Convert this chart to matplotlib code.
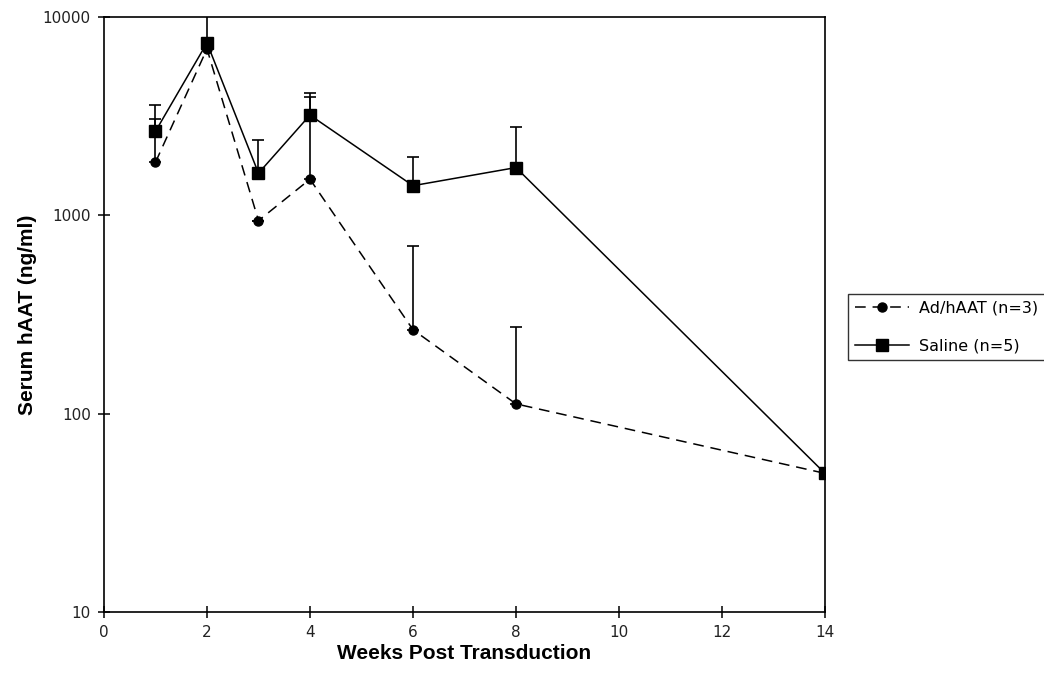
import matplotlib
matplotlib.use("Agg")
import matplotlib.pyplot as plt
from matplotlib.ticker import FixedLocator, NullLocator, FixedFormatter

weeks = [1, 2, 3, 4, 6, 8, 14]
ad_mean = [1850, 6900, 940, 1520, 265, 112, 50]
ad_upper = [3050, 7200, 940, 3970, 700, 272, 50]
saline_mean = [2650, 7400, 1630, 3200, 1410, 1740, 50]
saline_upper = [3600, 10600, 2400, 4150, 1970, 2800, 50]

xticks = [0, 2, 4, 6, 8, 10, 12, 14]
yticks = [10, 100, 1000, 10000]
ytick_labels = ["10", "100", "1000", "10000"]

fig = plt.figure(figsize=(10.44, 6.77), dpi=100)
ax = fig.add_axes([0.0996, 0.096, 0.6906, 0.879])

ad_err = [[0] * len(weeks), [u - m for u, m in zip(ad_upper, ad_mean)]]
sa_err = [[0] * len(weeks), [u - m for u, m in zip(saline_upper, saline_mean)]]

ax.errorbar(weeks, ad_mean, yerr=ad_err, fmt='none', ecolor='black',
            elinewidth=1.2, capsize=4.5, capthick=1.2)
ax.errorbar(weeks, saline_mean, yerr=sa_err, fmt='none', ecolor='black',
            elinewidth=1.2, capsize=4.5, capthick=1.2)

ax.plot(weeks, ad_mean, color='black', linestyle=(0, (7, 4.5)), linewidth=1.1,
        marker='o', markersize=6.5, label='Ad/hAAT (n=3)')
ax.plot(weeks, saline_mean, color='black', linestyle='-', linewidth=1.1,
        marker='s', markersize=8.5, label='Saline (n=5)')

ax.set_yscale('log')
ax.set_ylim(10, 10000)
ax.set_xlim(0, 14)
ax.xaxis.set_major_locator(FixedLocator(xticks))
ax.yaxis.set_major_locator(FixedLocator(yticks))
ax.yaxis.set_major_formatter(FixedFormatter(ytick_labels))
ax.yaxis.set_minor_locator(NullLocator())

for sp in ax.spines.values():
    sp.set_linewidth(1.2)
ax.tick_params(axis='both', direction='inout', length=9, width=1.1,
               labelsize=11, pad=5)
for lab in ax.get_xticklabels() + ax.get_yticklabels():
    lab.set_family('DejaVu Sans')
    lab.set_color('#222222')

ax.set_xlabel('Weeks Post Transduction', fontsize=15, fontweight='bold',
              family='Liberation Sans', labelpad=3)
ax.set_ylabel('Serum hAAT (ng/ml)', fontsize=15, fontweight='bold',
              family='Liberation Sans', labelpad=4)

leg = fig.legend(loc='upper left', bbox_to_anchor=(0.8125, 0.565),
                 frameon=True, fancybox=False, handlelength=3.4,
                 prop={'family': 'DejaVu Sans', 'size': 11.5},
                 borderpad=0.4, labelspacing=1.4, handletextpad=0.65,
                 borderaxespad=0)
leg.get_frame().set_edgecolor('black')
leg.get_frame().set_linewidth(1.0)

fig.savefig('out.png', dpi=100)
